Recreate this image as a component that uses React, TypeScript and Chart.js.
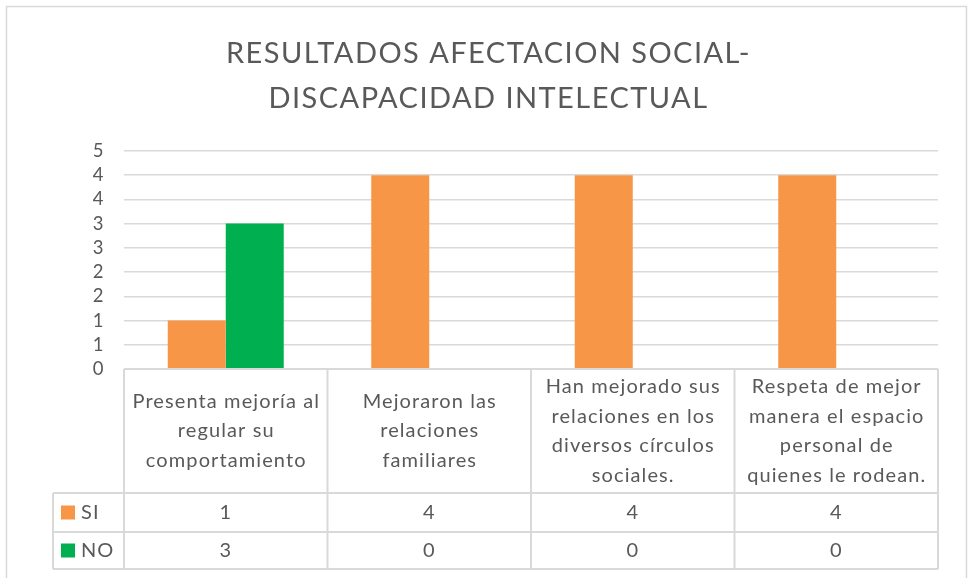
import React, { useEffect, useRef } from "react";
import { Chart, registerables } from "chart.js";

Chart.register(...registerables);

const titleLines = ["RESULTADOS AFECTACION SOCIAL-", "DISCAPACIDAD INTELECTUAL"];
const categories: string[][] = [
  ["Presenta mejoría al", "regular su", "comportamiento"],
  ["Mejoraron las", "relaciones", "familiares"],
  ["Han mejorado sus", "relaciones en los", "diversos círculos", "sociales."],
  ["Respeta de mejor", "manera el espacio", "personal de", "quienes le rodean."],
];
const seriesNames = ["SI", "NO"];
const siValues = [1, 4, 4, 4];
const noValues = [3, 0, 0, 0];
const seriesColors = ["#F79646", "#00B050"];
const yMax = 4.5;
const yStep = 0.5;

const TEXT = "#595959";
const LINE = "#d9d9d9";
const FONT = "Lato, 'Open Sans', sans-serif";

const tablePlugin = {
  id: "dataTable",
  beforeDraw(chart: any) {
    const ctx = chart.ctx;
    ctx.save();
    ctx.fillStyle = "#ffffff";
    ctx.fillRect(0, 0, chart.width, chart.height);
    ctx.strokeStyle = LINE;
    ctx.lineWidth = 1.5;
    ctx.strokeRect(6.5, 6.5, 960, chart.height + 20);
    ctx.restore();
    ctx.letterSpacing = "1.45px";
  },
  beforeDatasetsDraw(chart: any) {
    chart.ctx.letterSpacing = "0px";
  },
  afterDraw(chart: any) {
    const ctx = chart.ctx;
    const area = chart.chartArea;
    const x = chart.scales.x;
    const n = categories.length;
    const cw = (area.right - area.left) / n;
    const top = area.bottom;
    const headerBottom = top + 124;
    const row1Bottom = headerBottom + 39;
    const row2Bottom = row1Bottom + 37;
    const legendLeft = area.left - 71;
    ctx.save();
    ctx.letterSpacing = "0px";
    ctx.strokeStyle = LINE;
    ctx.lineWidth = 2;
    ctx.beginPath();
    ctx.moveTo(area.left, top);
    ctx.lineTo(area.right, top);
    ctx.moveTo(legendLeft, headerBottom);
    ctx.lineTo(area.right, headerBottom);
    ctx.moveTo(legendLeft, row1Bottom);
    ctx.lineTo(area.right, row1Bottom);
    ctx.moveTo(legendLeft, row2Bottom);
    ctx.lineTo(area.right, row2Bottom);
    ctx.moveTo(legendLeft, headerBottom);
    ctx.lineTo(legendLeft, row2Bottom);
    for (let i = 0; i <= n; i++) {
      const px = i < n ? x.getPixelForValue(i) - cw / 2 : x.getPixelForValue(n - 1) + cw / 2;
      ctx.moveTo(px, top);
      ctx.lineTo(px, row2Bottom);
    }
    ctx.stroke();

    ctx.fillStyle = TEXT;
    ctx.font = `20px ${FONT}`;
    ctx.letterSpacing = "1.1px";
    ctx.textAlign = "center";
    ctx.textBaseline = "middle";
    const lh = 29.5;
    const headerMid = (top + headerBottom) / 2;
    categories.forEach((lines, i) => {
      const cx = x.getPixelForValue(i) + 0.5;
      const start = headerMid - ((lines.length - 1) * lh) / 2;
      lines.forEach((ln, j) => ctx.fillText(ln, cx, start + j * lh));
    });
    const rows = [siValues, noValues];
    const rowMids = [(headerBottom + row1Bottom) / 2, (row1Bottom + row2Bottom) / 2];
    rows.forEach((vals, r) => {
      vals.forEach((v, i) => {
        ctx.fillText(String(v), x.getPixelForValue(i), rowMids[r]);
      });
      ctx.fillStyle = seriesColors[r];
      ctx.fillRect(legendLeft + 8, rowMids[r] - 7, 14, 14);
      ctx.fillStyle = TEXT;
      ctx.textAlign = "left";
      ctx.fillText(seriesNames[r], legendLeft + 28, rowMids[r]);
      ctx.textAlign = "center";
    });
    ctx.restore();
  },
};

export default function App() {
  const ref = useRef<HTMLCanvasElement | null>(null);
  useEffect(() => {
    document.body.style.margin = "0";
    if (!ref.current) return;
    const chart = new Chart(ref.current, {
      type: "bar",
      data: {
        labels: categories.map((c) => c.join(" ")),
        datasets: [
          { label: seriesNames[0], data: siValues, backgroundColor: seriesColors[0], borderWidth: 0 },
          { label: seriesNames[1], data: noValues, backgroundColor: seriesColors[1], borderWidth: 0 },
        ],
      },
      options: {
        animation: false,
        responsive: false,
        devicePixelRatio: 1,
        layout: { padding: { left: 6, right: 0, top: 0, bottom: 9 } },
        datasets: { bar: { categoryPercentage: 0.57, barPercentage: 1 } },
        plugins: {
          legend: { display: false },
          tooltip: { enabled: false },
          title: {
            display: true,
            text: titleLines,
            color: TEXT,
            font: { family: FONT, size: 29, weight: "normal", lineHeight: 1.55 },
            padding: { top: 31, bottom: 30 },
          },
        },
        scales: {
          x: {
            ticks: { display: false },
            grid: { display: false },
            border: { display: false },
            afterFit: (s: any) => {
              s.height = 200;
            },
          },
          y: {
            min: 0,
            max: yMax,
            ticks: {
              stepSize: yStep,
              autoSkip: false,
              color: TEXT,
              font: { family: FONT, size: 18.5 },
              padding: 19,
              callback: (v: any) => String(Math.round(Number(v))),
            },
            grid: { color: LINE, lineWidth: 1.5, drawTicks: false },
            border: { display: false },
            afterFit: (s: any) => {
              s.width = 118;
            },
          },
          yRight: {
            position: "right",
            display: true,
            ticks: { display: false },
            grid: { display: false, drawTicks: false },
            border: { display: false },
            afterFit: (s: any) => {
              s.width = 33;
            },
          },
        },
      },
      plugins: [tablePlugin],
    });
    return () => chart.destroy();
  }, []);
  return <canvas ref={ref} width={971} height={578} style={{ display: "block" }} />;
}
